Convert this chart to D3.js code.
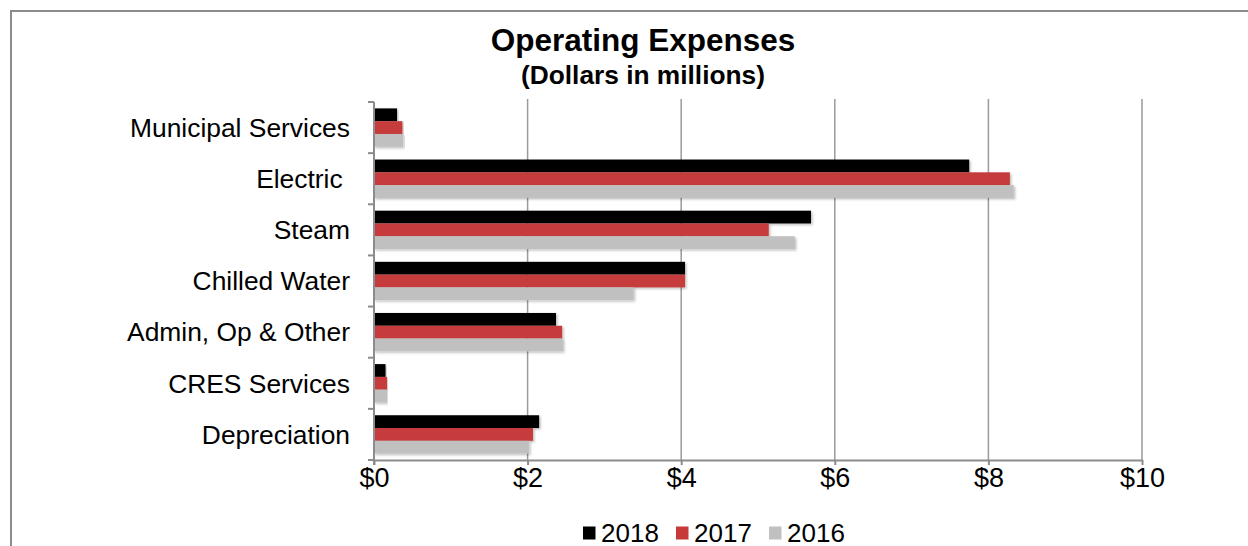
<html>
  <head>
    <script src="https://d3js.org/d3.v7.min.js"></script>
    <style>
      body { margin: 0; background: #fff; }
      text { font-family: "Liberation Sans", Arial, sans-serif; }
    </style>
  </head>
  <body>
    <script type="text/javascript">
      var categories = ["Municipal Services", "Electric ", "Steam", "Chilled Water", "Admin, Op & Other", "CRES Services", "Depreciation"];
      var years = ["2018", "2017", "2016"];
      var v2018 = [0.30, 7.75, 5.69, 4.05, 2.37, 0.15, 2.15];
      var v2017 = [0.37, 8.28, 5.14, 4.05, 2.45, 0.17, 2.07];
      var v2016 = [0.38, 8.33, 5.48, 3.38, 2.46, 0.17, 2.02];
      var xTicks = [0, 2, 4, 6, 8, 10];
      var colors = ["#000000", "#c63a3a", "#c0c0c0"];

      var w = 1248, h = 546;
      var plotLeft = 374, plotRight = 1142, plotTop = 102, plotBottom = 460;

      var series = [v2018, v2017, v2016];
      var rows = categories.map((c, i) => ({cat: c, vals: series.map(s => s[i])}));

      var x = d3.scaleLinear().domain([0, 10]).range([plotLeft, plotRight]);
      var y = d3.scaleBand().domain(categories).range([plotTop, plotBottom]).paddingInner(0.25).paddingOuter(0.125);
      var y1 = d3.scaleBand().domain(years).range([0, y.bandwidth()]);

      var svg = d3.select("body").append("svg")
        .attr("width", w)
        .attr("height", h);

      var defs = svg.append("defs");
      defs.append("filter").attr("id", "shadow").attr("x", "-5%").attr("y", "-30%").attr("width", "110%").attr("height", "170%")
        .append("feDropShadow").attr("dx", 1.5).attr("dy", 1.5).attr("stdDeviation", 1.2)
        .attr("flood-color", "#000").attr("flood-opacity", 0.25);

      // outer border
      svg.append("rect")
        .attr("x", 11).attr("y", 11)
        .attr("width", w + 20).attr("height", h + 20)
        .attr("fill", "none").attr("stroke", "#8c8c8c").attr("stroke-width", 2);

      // titles
      svg.append("text").attr("x", 643).attr("y", 51)
        .attr("text-anchor", "middle").attr("font-size", 31.5).attr("font-weight", "bold")
        .text("Operating Expenses");
      svg.append("text").attr("x", 643).attr("y", 84)
        .attr("text-anchor", "middle").attr("font-size", 26.3).attr("font-weight", "bold")
        .text("(Dollars in millions)");

      // gridlines
      svg.append("g").selectAll("line").data(xTicks.slice(1)).enter().append("line")
        .attr("x1", d => x(d)).attr("x2", d => x(d))
        .attr("y1", plotTop - 3).attr("y2", plotBottom)
        .attr("stroke", "#9a9a9a").attr("stroke-width", 1.5);

      // bars
      var groups = svg.append("g").selectAll("g").data(rows).enter().append("g")
        .attr("transform", d => "translate(0," + y(d.cat) + ")");

      groups.selectAll("rect").data(d => d.vals).enter().append("rect")
        .attr("x", x(0))
        .attr("y", (d, i) => y1(years[i]))
        .attr("width", d => x(d) - x(0))
        .attr("height", y1.bandwidth())
        .attr("fill", (d, i) => colors[i])
        .attr("filter", "url(#shadow)");

      // x axis
      var xAxis = d3.axisBottom(x).tickValues(xTicks).tickFormat(d => "$" + d).tickSize(5).tickSizeOuter(0);
      var gx = svg.append("g")
        .attr("transform", "translate(0," + plotBottom + ")")
        .call(xAxis);
      gx.select(".domain").attr("stroke", "#8c8c8c").attr("stroke-width", 2);
      gx.selectAll(".tick line").attr("stroke", "#8c8c8c").attr("stroke-width", 2);
      gx.selectAll(".tick text").attr("font-size", 27).attr("fill", "#000")
        .attr("y", 27).attr("dy", 0)
        .attr("font-family", "Liberation Sans, Arial, sans-serif");

      // y axis line and boundary ticks
      var bounds = d3.range(categories.length + 1).map(i => plotTop + i * (plotBottom - plotTop) / categories.length);
      svg.append("line").attr("x1", plotLeft).attr("x2", plotLeft).attr("y1", plotTop).attr("y2", plotBottom + 5)
        .attr("stroke", "#8c8c8c").attr("stroke-width", 2);
      svg.append("g").selectAll("line").data(bounds).enter().append("line")
        .attr("x1", plotLeft - 6).attr("x2", plotLeft)
        .attr("y1", d => d).attr("y2", d => d)
        .attr("stroke", "#8c8c8c").attr("stroke-width", 2);

      // category labels
      svg.append("g").selectAll("text").data(categories).enter().append("text")
        .attr("x", 350)
        .attr("y", d => y(d) + y.bandwidth() / 2)
        .attr("dy", "0.35em")
        .attr("text-anchor", "end")
        .attr("font-size", 26.4)
        .style("white-space", "pre")
        .text(d => d);

      // legend
      var legX = [583, 676, 769];
      var leg = svg.append("g").selectAll("g").data(years).enter().append("g")
        .attr("transform", (d, i) => "translate(" + legX[i] + ",533)");
      leg.append("rect").attr("x", 0).attr("y", -6.5).attr("width", 12.5).attr("height", 13)
        .attr("fill", (d, i) => colors[i]);
      leg.append("text").attr("x", 18).attr("y", 9)
        .attr("font-size", 26).text(d => d);
    </script>
  </body>
</html>
